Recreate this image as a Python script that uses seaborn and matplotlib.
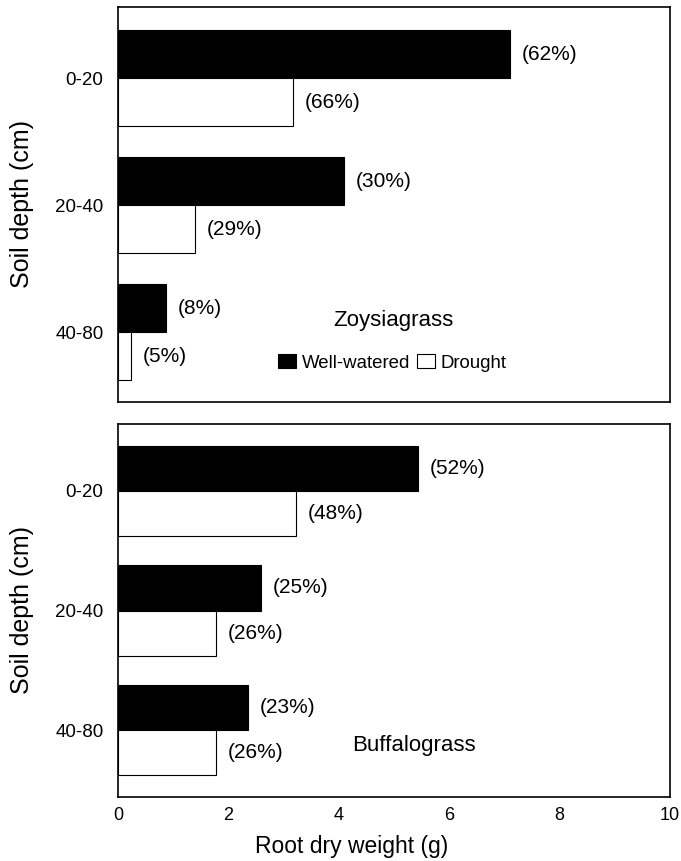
import matplotlib
matplotlib.use('Agg')
import matplotlib.pyplot as plt
import pandas as pd
import seaborn as sns
from matplotlib.patches import Patch

# ---- data ----
depths = ['0-20', '20-40', '40-80']
treatments = ['Well-watered', 'Drought']
species = ['Zoysiagrass', 'Buffalograss']

zoysia_ww = [7.10, 4.09, 0.87]
zoysia_dr = [3.17, 1.39, 0.24]
zoysia_ww_pct = ['(62%)', '(30%)', '(8%)']
zoysia_dr_pct = ['(66%)', '(29%)', '(5%)']

buffalo_ww = [5.43, 2.59, 2.36]
buffalo_dr = [3.22, 1.78, 1.78]
buffalo_ww_pct = ['(52%)', '(25%)', '(23%)']
buffalo_dr_pct = ['(48%)', '(26%)', '(26%)']

x_ticks = [0, 2, 4, 6, 8, 10]

# ---- style ----
sns.set_style('white', rc={
    'axes.edgecolor': 'black', 'text.color': 'black', 'axes.labelcolor': 'black',
    'xtick.color': 'black', 'ytick.color': 'black', 'axes.linewidth': 1.2,
})
plt.rcParams['font.family'] = ['Liberation Sans', 'DejaVu Sans']

W, H = 681, 861
fig = plt.figure(figsize=(W / 100, H / 100), dpi=100)
ax1 = fig.add_axes([118 / W, 1 - 402 / H, 552 / W, 395 / H])
ax2 = fig.add_axes([118 / W, 1 - 797 / H, 552 / W, 373 / H])

palette = {'Well-watered': 'black', 'Drought': 'white'}


def make_df(ww, dr):
    return pd.DataFrame({
        'depth': depths * 2,
        'treatment': [treatments[0]] * 3 + [treatments[1]] * 3,
        'weight': list(ww) + list(dr),
    })


panels = [
    (ax1, make_df(zoysia_ww, zoysia_dr), zoysia_ww_pct, zoysia_dr_pct, (2.55, -0.56)),
    (ax2, make_df(buffalo_ww, buffalo_dr), buffalo_ww_pct, buffalo_dr_pct, (2.56, -0.56)),
]

for ax, df, ww_pct, dr_pct, ylim in panels:
    sns.barplot(data=df, x='weight', y='depth', hue='treatment', order=depths,
                hue_order=treatments, palette=palette, orient='h', width=0.755,
                edgecolor='black', linewidth=0.8, errorbar=None, legend=False, ax=ax)
    for cont in ax.containers:
        for p in cont:
            yc = p.get_y() + p.get_height() / 2
            idx = int(round(yc))
            is_ww = p.get_facecolor()[0] < 0.5
            lab = ww_pct[idx] if is_ww else dr_pct[idx]
            ax.annotate(lab, (p.get_width(), yc), xytext=(8.5, 0), textcoords='offset points',
                        ha='left', va='center', fontsize=15)
    ax.set_xlim(0, 10)
    ax.set_ylim(*ylim)
    ax.set_xticks(x_ticks)
    ax.set_xticklabels([str(t) for t in x_ticks])
    ax.tick_params(axis='y', length=0, pad=10.5, labelsize=13.5)
    ax.tick_params(axis='x', length=0, pad=7, labelsize=13)
    ax.set_ylabel('Soil depth (cm)', fontsize=18)
    ax.yaxis.set_label_coords(-0.152, 0.5)
    for s in ax.spines.values():
        s.set_visible(True)
        s.set_color('black')
        s.set_linewidth(1.2)

ax1.tick_params(axis='x', labelbottom=False)
ax1.set_xlabel('')
ax2.set_xlabel('Root dry weight (g)', fontsize=16.5)
ax2.xaxis.set_label_coords((351.5 - 118) / 552, -0.102)

ax1.text(3.895, 1.91, species[0], fontsize=16, ha='left', va='center')
ax2.text(4.24, 2.13, species[1], fontsize=16, ha='left', va='center')

handles = [Patch(facecolor='black', edgecolor='black', linewidth=0.8),
           Patch(facecolor='white', edgecolor='black', linewidth=0.8)]
ax1.legend(handles, treatments, loc='center left',
           bbox_to_anchor=((278 - 118) / 552, (402 - 363) / 395),
           ncol=2, frameon=False, fontsize=13.4, handlelength=0.97, handleheight=0.8,
           handletextpad=0.33, columnspacing=0.33, borderpad=0, borderaxespad=0)

fig.savefig('out.png', dpi=100)
